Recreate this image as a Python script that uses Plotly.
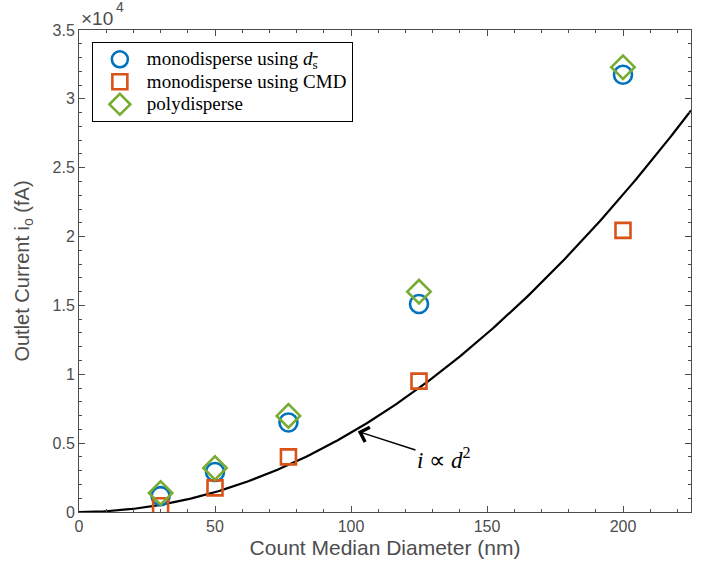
import numpy as np
import plotly.graph_objects as go

# Count median diameter (nm)
cmd_nm = [30, 50, 77, 125, 200]

# Outlet current (fA) for the three models
mono_ds = [1150, 2900, 6500, 15100, 31750]
mono_cmd = [450, 1750, 4000, 9500, 20450]
poly = [1380, 3200, 6980, 16000, 32300]

# i ∝ d^2 reference curve coefficient (fA / nm^2)
k_quad = 0.576
curve_d = np.linspace(0, 225, 300)
curve_i = k_quad * curve_d ** 2

y_ticks = [0, 5000, 10000, 15000, 20000, 25000, 30000, 35000]
y_tick_text = ["0", "0.5", "1", "1.5", "2", "2.5", "3", "3.5"]

axis_gray = "#4d4d4d"
sans = "Liberation Sans, Arial, sans-serif"
serif = "Liberation Serif, Times New Roman, serif"


def legend_label(text):
    # larger glyphs than the legend's base size, keeping rows compact
    return "<span style='font-size:19px'>" + text + "</span>"


fig = go.Figure()

fig.add_trace(go.Scatter(
    x=curve_d, y=curve_i, mode="lines",
    line=dict(color="black", width=2.2),
    showlegend=False, hoverinfo="skip",
))

fig.add_trace(go.Scatter(
    x=cmd_nm, y=mono_ds, mode="markers",
    name=legend_label("monodisperse using <i>d</i><sub><span style='text-decoration:overline'>s</span></sub>"),
    marker=dict(symbol="circle-open", size=18, color="#0072BD",
                line=dict(width=2.6, color="#0072BD")),
))
fig.add_trace(go.Scatter(
    x=cmd_nm, y=mono_cmd, mode="markers",
    name=legend_label("monodisperse using CMD"),
    marker=dict(symbol="square-open", size=15, color="#D95319",
                line=dict(width=2.6, color="#D95319")),
))
fig.add_trace(go.Scatter(
    x=cmd_nm, y=poly, mode="markers",
    name=legend_label("polydisperse"),
    marker=dict(symbol="diamond-open", size=18, color="#77AC30",
                line=dict(width=2.6, color="#77AC30")),
))

axis_common = dict(
    showline=True, linecolor=axis_gray, linewidth=1, mirror="ticks",
    ticks="inside", ticklen=6, tickcolor=axis_gray, tickwidth=1,
    showgrid=False, zeroline=False,
    tickfont=dict(family=sans, size=16, color=axis_gray),
)

fig.update_xaxes(
    range=[0, 225], tickvals=[0, 50, 100, 150, 200],
    minor=dict(dtick=10, ticks="inside", ticklen=3, tickcolor=axis_gray),
    title=dict(text="Count Median Diameter (nm)",
               font=dict(family=sans, size=21, color=axis_gray), standoff=6),
    **axis_common,
)
fig.update_yaxes(
    range=[0, 35000], tickvals=y_ticks, ticktext=y_tick_text,
    minor=dict(dtick=1000, ticks="inside", ticklen=3, tickcolor=axis_gray),
    title=dict(text="Outlet Current i<sub>o</sub> (fA)",
               font=dict(family=sans, size=20, color=axis_gray), standoff=17),
    **axis_common,
)

# Axis exponent label
fig.add_annotation(
    x=0, y=1, xref="paper", yref="paper", xanchor="left", yanchor="bottom",
    text="×10", showarrow=False, yshift=-1, xshift=0,
    font=dict(family=sans, size=19, color=axis_gray),
)
fig.add_annotation(
    x=0, y=1, xref="paper", yref="paper", xanchor="left", yanchor="bottom",
    text="4", showarrow=False, yshift=13, xshift=35,
    font=dict(family=sans, size=14, color=axis_gray),
)

fig.add_annotation(
    x=102.5, y=5850, xref="x", yref="y",
    ax=134, ay=3850, axref="x", ayref="y",
    text="<i>i</i> ∝ <i>d</i><sup>2</sup>",
    showarrow=True, arrowhead=4, arrowsize=2, arrowwidth=1.5,
    arrowcolor="black", standoff=0,
    font=dict(family=serif, size=23, color="black"),
)

fig.update_layout(
    width=707, height=572,
    margin=dict(l=79, r=16, t=30, b=60),
    plot_bgcolor="white", paper_bgcolor="white",
    legend=dict(
        x=0.021, y=0.975, xanchor="left", yanchor="top",
        bgcolor="white", bordercolor="black", borderwidth=1,
        font=dict(family=serif, size=15, color="black"),
        tracegroupgap=0, itemsizing="trace", itemwidth=44,
    ),
)

fig.write_html("out.html")
